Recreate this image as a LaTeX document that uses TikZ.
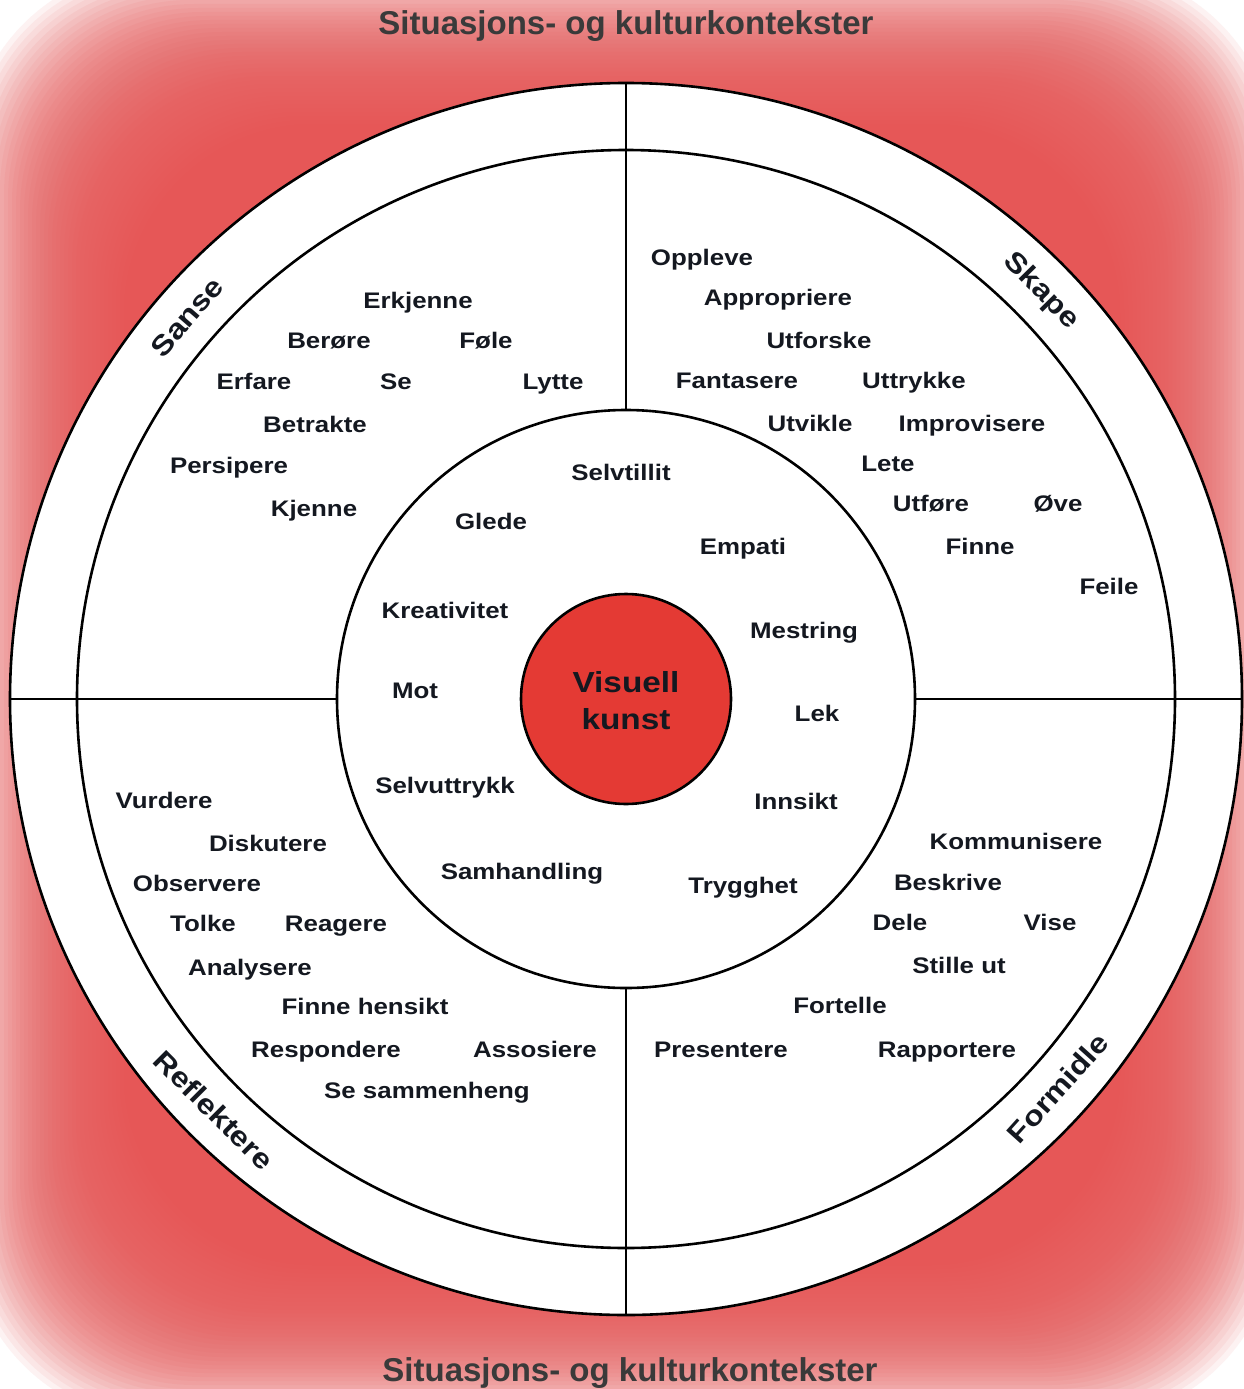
\documentclass[tikz,border=0pt]{standalone}
\usepackage{fontspec}
\setmainfont{Liberation Sans}[FakeStretch=1.15]
\newfontfamily\titlefont{Liberation Sans}
\definecolor{glow}{RGB}{230,86,86}
\definecolor{core}{RGB}{228,58,52}
\definecolor{ink}{RGB}{20,24,32}
\definecolor{titleink}{RGB}{58,58,58}
\begin{document}
\begin{tikzpicture}[x=1pt,y=-1pt,
  word/.style={font=\fontsize{22.5}{27}\selectfont\bfseries, text=ink, anchor=base, inner sep=0pt},
  bandlabel/.style={font=\fontsize{28}{32}\selectfont\bfseries, text=ink, anchor=center, inner sep=0pt},
  titletext/.style={font=\titlefont\bfseries\fontsize{33}{38}\selectfont, text=titleink, anchor=base, inner sep=0pt},
  ring/.style={circle, draw=black, line width=2.6pt, inner sep=0pt, outer sep=0pt},
  divider/.style={draw=black, line width=1.8pt}]
\useasboundingbox (0,0) rectangle (1244,1389);
\fill[white] (0,0) rectangle (1244,1389);
% feathered red glow
\foreach \k in {1,...,40}{
  \pgfmathsetmacro\d{-36+4*\k}
  \fill[glow, opacity=0.075, rounded corners=190pt] (\d,\d) rectangle (1244-\d,1389-\d);
}
\coordinate (C) at (626,699);
% circles
\node[ring, fill=white, minimum size=1232pt] (outer) at (C) {};
\node[ring, minimum size=1098pt] (middle) at (C) {};
\node[ring, fill=white, minimum size=578pt] (inner) at (C) {};
\node[ring, fill=core, minimum size=210pt] (core) at (C) {};
% dividers
\draw[divider] (outer.north) -- (inner.north);
\draw[divider] (inner.south) -- (outer.south);
\draw[divider] (outer.west) -- (inner.west);
\draw[divider] (inner.east) -- (outer.east);
% titles
\node[titletext] (ttop) at (626,35) {Situasjons- og kulturkontekster};
\node[titletext] (tbot) at (630,1381) {Situasjons- og kulturkontekster};
% centre
\node[font=\fontsize{29}{37}\selectfont\bfseries, text=ink, align=center, inner sep=0pt] (vk) at (626,701) {Visuell\\kunst};
% band labels
\node[bandlabel, rotate=49] (sanse) at (187,317) {Sanse};
\node[bandlabel, rotate=-45.5] (skape) at (1041,291) {Skape};
\node[bandlabel, rotate=-45] (reflektere) at (214,1110) {Reflektere};
\node[bandlabel, rotate=48] (formidle) at (1058,1088) {Formidle};
% Sanse
\node[word] (w1) at (418,308) {Erkjenne};
\node[word] (w2) at (329,348) {Berøre};
\node[word] (w3) at (486,348) {Føle};
\node[word] (w4) at (254,389) {Erfare};
\node[word] (w5) at (396,389) {Se};
\node[word] (w6) at (553,389) {Lytte};
\node[word] (w7) at (315,432) {Betrakte};
\node[word] (w8) at (229,473) {Persipere};
\node[word] (w9) at (314,516) {Kjenne};
% Skape
\node[word] (s1) at (702,265) {Oppleve};
\node[word] (s2) at (778,305) {Appropriere};
\node[word] (s3) at (819,348) {Utforske};
\node[word] (s4) at (737,388) {Fantasere};
\node[word] (s5) at (914,388) {Uttrykke};
\node[word] (s6) at (810,431) {Utvikle};
\node[word] (s7) at (972,431) {Improvisere};
\node[word] (s8) at (888,471) {Lete};
\node[word] (s9) at (931,511) {Utføre};
\node[word] (s10) at (1058,511) {Øve};
\node[word] (s11) at (980,554) {Finne};
\node[word] (s12) at (1109,594) {Feile};
% inner ring
\node[word] (i1) at (621,480) {Selvtillit};
\node[word] (i2) at (491,529) {Glede};
\node[word] (i3) at (743,554) {Empati};
\node[word] (i4) at (445,618) {Kreativitet};
\node[word] (i5) at (804,638) {Mestring};
\node[word] (i6) at (415,698) {Mot};
\node[word] (i7) at (817,721) {Lek};
\node[word] (i8) at (445,793) {Selvuttrykk};
\node[word] (i9) at (796,809) {Innsikt};
\node[word] (i10) at (522,879) {Samhandling};
\node[word] (i11) at (743,893) {Trygghet};
% Reflektere
\node[word] (r1) at (164,808) {Vurdere};
\node[word] (r2) at (268,851) {Diskutere};
\node[word] (r3) at (197,891) {Observere};
\node[word] (r4) at (203,931) {Tolke};
\node[word] (r5) at (336,931) {Reagere};
\node[word] (r6) at (250,975) {Analysere};
\node[word] (r7) at (365,1014) {Finne hensikt};
\node[word] (r8) at (326,1057) {Respondere};
\node[word] (r9) at (535,1057) {Assosiere};
\node[word] (r10) at (427,1098) {Se sammenheng};
% Formidle
\node[word] (f1) at (1016,849) {Kommunisere};
\node[word] (f2) at (948,890) {Beskrive};
\node[word] (f3) at (900,930) {Dele};
\node[word] (f4) at (1050,930) {Vise};
\node[word] (f5) at (959,973) {Stille ut};
\node[word] (f6) at (840,1013) {Fortelle};
\node[word] (f7) at (721,1057) {Presentere};
\node[word] (f8) at (947,1057) {Rapportere};
\end{tikzpicture}
\end{document}
